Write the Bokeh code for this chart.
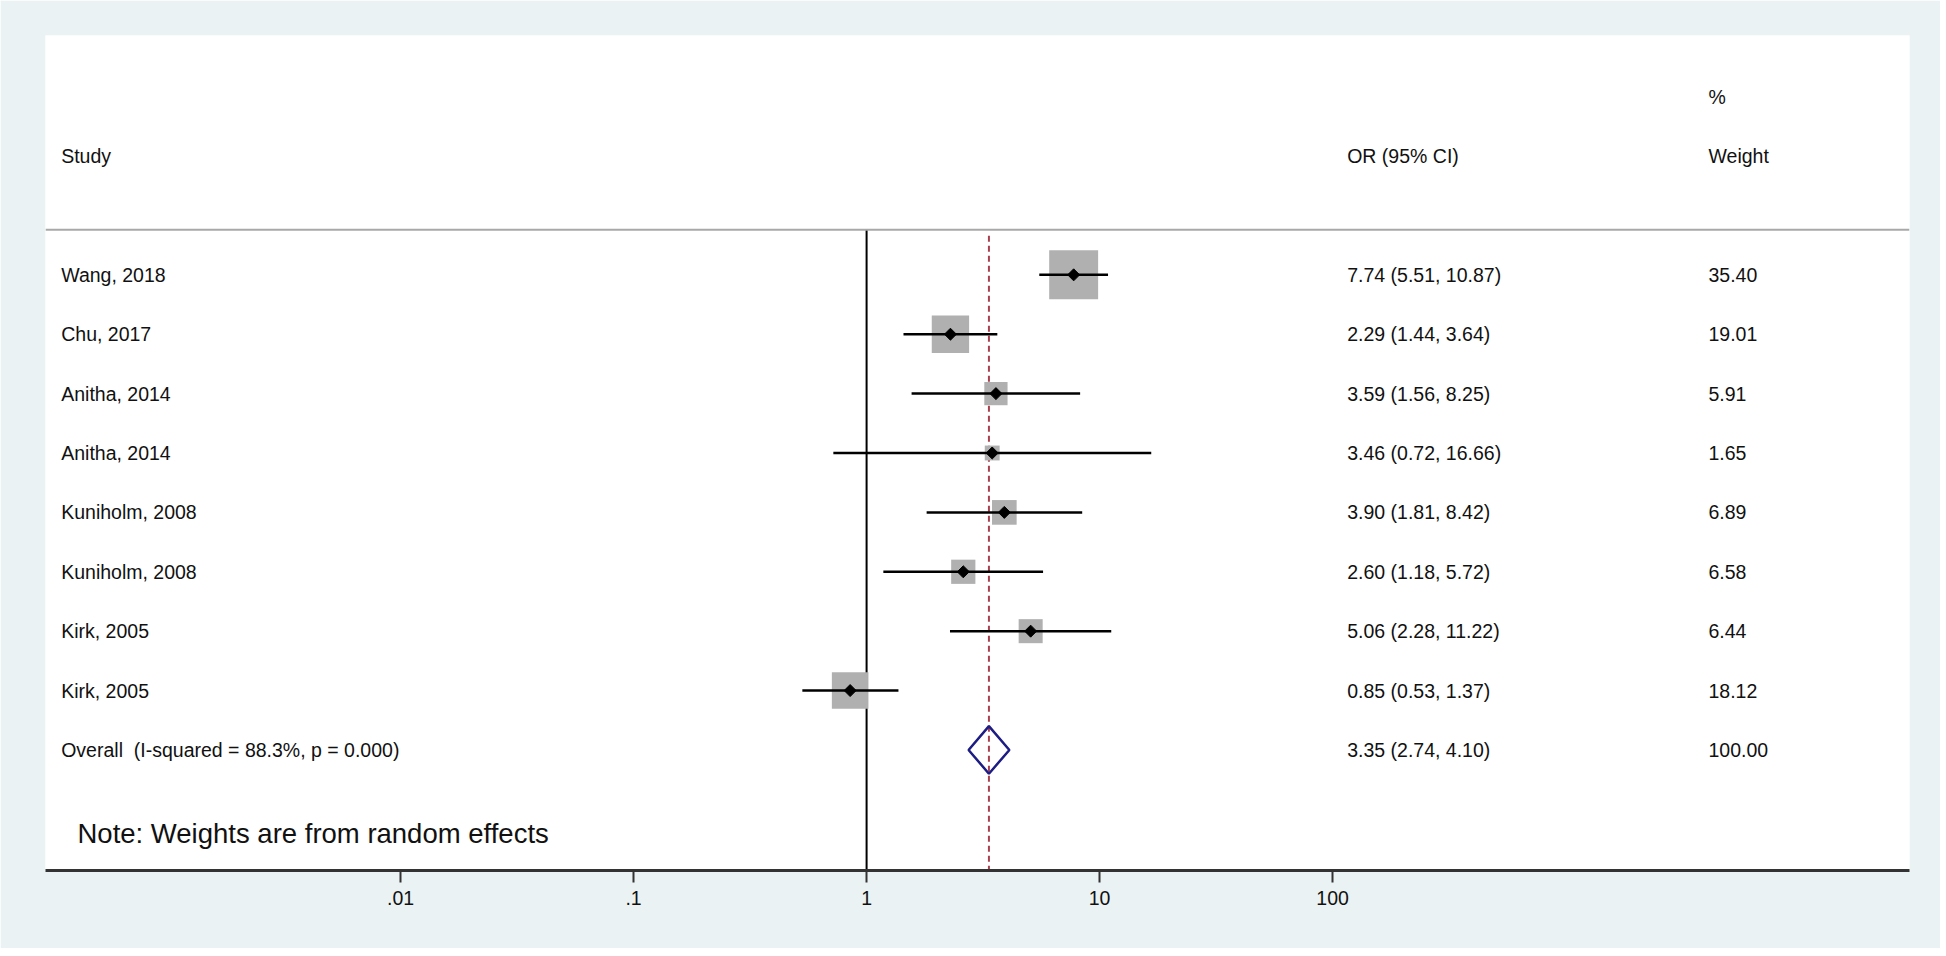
import numpy as np
from bokeh.plotting import figure
from bokeh.models import Range1d, LinearScale, FixedTicker, Span, ColumnDataSource
from bokeh.core.properties import value
from bokeh.embed import file_html
from bokeh.resources import INLINE

# ---- data ----
studies = ["Wang, 2018", "Chu, 2017", "Anitha, 2014", "Anitha, 2014",
           "Kuniholm, 2008", "Kuniholm, 2008", "Kirk, 2005", "Kirk, 2005"]
or_est = [7.74, 2.29, 3.59, 3.46, 3.90, 2.60, 5.06, 0.85]
ci_low = [5.51, 1.44, 1.56, 0.72, 1.81, 1.18, 2.28, 0.53]
ci_high = [10.87, 3.64, 8.25, 16.66, 8.42, 5.72, 11.22, 1.37]
weights = [35.40, 19.01, 5.91, 1.65, 6.89, 6.58, 6.44, 18.12]

overall_label = "Overall \u00a0(I-squared = 88.3%, p = 0.000)"
overall_est = 3.35
overall_low = 2.74
overall_high = 4.10
overall_weight = 100.00

xticks = [0.01, 0.1, 1.0, 10.0, 100.0]
xtick_labels = [".01", ".1", "1", "10", "100"]

note = "Note: Weights are from random effects"

# ---- styling ----
FONT = value("Liberation Sans")
TXT = "#111111"
BG = "#eaf2f3"

n = len(studies)
rows = list(range(n))
y_top, y_bot = -4.03, 10.03
header_line_y = -0.76

p = figure(width=1940, height=948, x_axis_type="log",
           x_range=Range1d(10 ** -3.524, 10 ** 4.476),
           y_range=Range1d(y_bot, y_top),
           y_axis_location=None,
           output_backend="svg", toolbar_location=None,
           min_border_left=45, min_border_right=31,
           min_border_top=35, min_border_bottom=78)
p.extra_x_ranges = {"col": Range1d(0, 1864)}
p.extra_x_scales = {"col": LinearScale()}

p.background_fill_color = "white"
p.border_fill_color = BG
p.outline_line_color = None
p.xgrid.visible = False
p.ygrid.visible = False

ax = p.xaxis[0]
ax.ticker = FixedTicker(ticks=xticks, minor_ticks=[])
ax.major_label_overrides = {t: l for t, l in zip(xticks, xtick_labels)}
ax.axis_line_width = 3
ax.axis_line_color = "#333333"
ax.major_tick_line_width = 2
ax.major_tick_line_color = "#333333"
ax.major_tick_out = 12
ax.major_tick_in = 0
ax.minor_tick_line_color = None
ax.major_label_text_font = "Liberation Sans"
ax.major_label_text_font_size = "19.5px"
ax.major_label_text_color = TXT
ax.major_label_standoff = 8

# header separator
p.add_layout(Span(location=header_line_y, dimension="width",
                  line_color="#a8a8a8", line_width=2))

# null line at OR = 1
p.segment(x0=[1.0], y0=[header_line_y], x1=[1.0], y1=[y_bot],
          line_color="black", line_width=2)

# overall dashed line
p.segment(x0=[overall_est], y0=[-0.66], x1=[overall_est], y1=[y_bot],
          line_color="#a8404f", line_width=2, line_dash="6 4")

# weight boxes
box_size = [5.5 + 7.3 * np.sqrt(w) for w in weights]
src = ColumnDataSource(dict(y=rows, est=or_est, lo=ci_low, hi=ci_high,
                            size=box_size))
p.scatter(x="est", y="y", size="size", marker="square", source=src,
          fill_color="#b0b0b0", line_color=None)

# CIs
p.segment(x0="lo", y0="y", x1="hi", y1="y", source=src,
          line_color="black", line_width=2.5)

# point estimates
p.scatter(x="est", y="y", size=8.5, marker="square", angle=np.pi / 4,
          source=src, fill_color="black", line_color="black")

# overall diamond
yo = n
p.patch(x=[overall_low, overall_est, overall_high, overall_est],
        y=[yo, yo - 0.4, yo, yo + 0.4],
        fill_color=None, line_color="#1c1c84", line_width=2.5)

# text columns
col_study, col_or, col_w = 15.7, 1301.7, 1663.0
tsize = "19.5px"

or_text = [f"{e:.2f} ({l:.2f}, {h:.2f})" for e, l, h in zip(or_est, ci_low, ci_high)]
or_text.append(f"{overall_est:.2f} ({overall_low:.2f}, {overall_high:.2f})")
w_text = [f"{w:.2f}" for w in weights] + [f"{overall_weight:.2f}"]
s_text = studies + [overall_label]
ys = rows + [n]

common = dict(x_range_name="col", text_font=FONT, text_font_size=tsize,
              text_baseline="middle", text_align="left", text_color=TXT)
p.text(x=[col_study] * len(ys), y=ys, text=s_text, **common)
p.text(x=[col_or] * len(ys), y=ys, text=or_text, **common)
p.text(x=[col_w] * len(ys), y=ys, text=w_text, **common)

# headers
p.text(x=[col_study, col_or, col_w, col_w], y=[-2, -2, -2, -3],
       text=["Study", "OR (95% CI)", "Weight", "%"], **common)

# note
p.text(x=[32], y=[9.41], text=[note], x_range_name="col", text_font=FONT,
       text_font_size="27.5px", text_baseline="middle", text_align="left",
       text_color=TXT)

open("out.html", "w").write(file_html(p, INLINE))
